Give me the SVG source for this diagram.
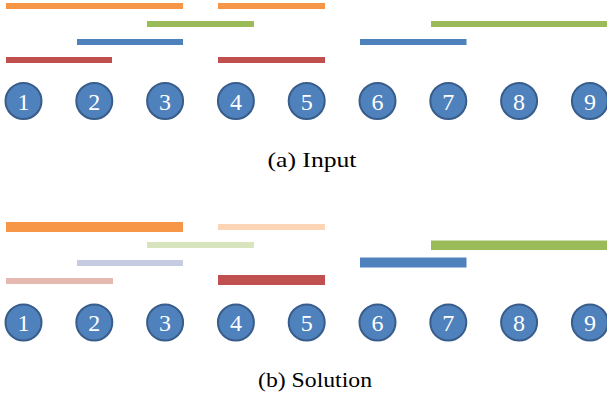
<svg xmlns="http://www.w3.org/2000/svg" width="607" height="401" viewBox="0 0 607 401">
<style>
.c{fill:#4f81bd;stroke:#385d8a;stroke-width:2}
.n{fill:#fff;font-family:"Liberation Serif",serif;font-size:24px;text-anchor:middle}
.cap{fill:#000;font-family:"Liberation Serif",serif;font-size:21px;text-anchor:middle}
.o{fill:#f79646}.g{fill:#9bbb59}.b{fill:#4f81bd}.r{fill:#c0504d}
.lo{fill:#fbd5b5}.lg{fill:#d7e4bd}.lb{fill:#c5cbe0}.lr{fill:#e6b9b0}
</style>
<g id="panel-a">
<g id="bars-a">
<rect class="o" x="6" y="3" width="177" height="6"/>
<rect class="o" x="218" y="3" width="107" height="6"/>
<rect class="g" x="147" y="21" width="107" height="6"/>
<rect class="g" x="431" y="21" width="176" height="6"/>
<rect class="b" x="77" y="39" width="106" height="6"/>
<rect class="b" x="360" y="39" width="106.5" height="6"/>
<rect class="r" x="6" y="57" width="106" height="6"/>
<rect class="r" x="218" y="57" width="107" height="6"/>
</g>
<g id="a1"><circle class="c" cx="23.5" cy="101" r="18"/><text class="n" x="23.5" y="109.5">1</text></g>
<g id="a2"><circle class="c" cx="94.3" cy="101" r="18"/><text class="n" x="94.3" y="109.5">2</text></g>
<g id="a3"><circle class="c" cx="165.1" cy="101" r="18"/><text class="n" x="165.1" y="109.5">3</text></g>
<g id="a4"><circle class="c" cx="235.9" cy="101" r="18"/><text class="n" x="235.9" y="109.5">4</text></g>
<g id="a5"><circle class="c" cx="306.7" cy="101" r="18"/><text class="n" x="306.7" y="109.5">5</text></g>
<g id="a6"><circle class="c" cx="377.5" cy="101" r="18"/><text class="n" x="377.5" y="109.5">6</text></g>
<g id="a7"><circle class="c" cx="448.3" cy="101" r="18"/><text class="n" x="448.3" y="109.5">7</text></g>
<g id="a8"><circle class="c" cx="519.1" cy="101" r="18"/><text class="n" x="519.1" y="109.5">8</text></g>
<g id="a9"><circle class="c" cx="589.9" cy="101" r="18"/><text class="n" x="589.9" y="109.5">9</text></g>
<text id="cap-a" class="cap" x="312" y="167" textLength="89" lengthAdjust="spacingAndGlyphs">(a) Input</text>
</g>
<g id="panel-b">
<g id="bars-b">
<rect class="o" x="6" y="222" width="177" height="10"/>
<rect class="lo" x="218" y="224" width="107" height="6"/>
<rect class="lg" x="147" y="242" width="107" height="6"/>
<rect class="g" x="431" y="240.5" width="176" height="9.5"/>
<rect class="lb" x="77" y="260" width="106" height="6"/>
<rect class="b" x="360" y="257.5" width="106.5" height="10"/>
<rect class="lr" x="6" y="278" width="107" height="6"/>
<rect class="r" x="218" y="275" width="107" height="10"/>
</g>
<g id="b1"><circle class="c" cx="23.5" cy="322.5" r="18"/><text class="n" x="23.5" y="331">1</text></g>
<g id="b2"><circle class="c" cx="94.3" cy="322.5" r="18"/><text class="n" x="94.3" y="331">2</text></g>
<g id="b3"><circle class="c" cx="165.1" cy="322.5" r="18"/><text class="n" x="165.1" y="331">3</text></g>
<g id="b4"><circle class="c" cx="235.9" cy="322.5" r="18"/><text class="n" x="235.9" y="331">4</text></g>
<g id="b5"><circle class="c" cx="306.7" cy="322.5" r="18"/><text class="n" x="306.7" y="331">5</text></g>
<g id="b6"><circle class="c" cx="377.5" cy="322.5" r="18"/><text class="n" x="377.5" y="331">6</text></g>
<g id="b7"><circle class="c" cx="448.3" cy="322.5" r="18"/><text class="n" x="448.3" y="331">7</text></g>
<g id="b8"><circle class="c" cx="519.1" cy="322.5" r="18"/><text class="n" x="519.1" y="331">8</text></g>
<g id="b9"><circle class="c" cx="589.9" cy="322.5" r="18"/><text class="n" x="589.9" y="331">9</text></g>
<text id="cap-b" class="cap" x="315" y="387" textLength="114" lengthAdjust="spacingAndGlyphs">(b) Solution</text>
</g>
</svg>
